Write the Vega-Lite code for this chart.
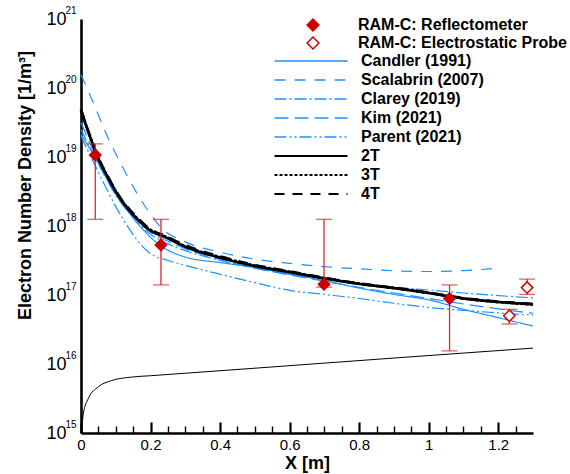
{
  "$schema": "https://vega.github.io/schema/vega-lite/v6.json",
  "width": 452,
  "height": 414,
  "autosize": {"type": "none"},
  "padding": {"left": 81, "top": 19, "right": 37, "bottom": 41},
  "background": "white",
  "config": {"view": {"stroke": null}, "font": "Liberation Sans", "axis": {"grid": false}},
  "resolve": {"axis": {"x": "independent", "y": "independent"}},
  "datasets": {
    "curves": [
      {"model": "Candler (1991)", "x": 0, "n": 2.14e19},
      {"model": "Candler (1991)", "x": 0.05, "n": 8.13e18},
      {"model": "Candler (1991)", "x": 0.09, "n": 3.47e18},
      {"model": "Candler (1991)", "x": 0.14, "n": 1.51e18},
      {"model": "Candler (1991)", "x": 0.18, "n": 8.71e17},
      {"model": "Candler (1991)", "x": 0.22, "n": 5.62e17},
      {"model": "Candler (1991)", "x": 0.25, "n": 4.47e17},
      {"model": "Candler (1991)", "x": 0.3, "n": 3.55e17},
      {"model": "Candler (1991)", "x": 0.4, "n": 2.95e17},
      {"model": "Candler (1991)", "x": 0.5, "n": 2.51e17},
      {"model": "Candler (1991)", "x": 0.6, "n": 2.0e17},
      {"model": "Candler (1991)", "x": 0.7, "n": 1.62e17},
      {"model": "Candler (1991)", "x": 0.8, "n": 1.26e17},
      {"model": "Candler (1991)", "x": 0.9, "n": 1.02e17},
      {"model": "Candler (1991)", "x": 1.0, "n": 8.5e16},
      {"model": "Candler (1991)", "x": 1.1, "n": 6.2e16},
      {"model": "Candler (1991)", "x": 1.2, "n": 4.7e16},
      {"model": "Candler (1991)", "x": 1.3, "n": 3.55e16},
      {"model": "Scalabrin (2007)", "x": 0, "n": 1.55e20},
      {"model": "Scalabrin (2007)", "x": 0.03, "n": 7.08e19},
      {"model": "Scalabrin (2007)", "x": 0.05, "n": 4.07e19},
      {"model": "Scalabrin (2007)", "x": 0.08, "n": 1.78e19},
      {"model": "Scalabrin (2007)", "x": 0.11, "n": 8.91e18},
      {"model": "Scalabrin (2007)", "x": 0.14, "n": 4.57e18},
      {"model": "Scalabrin (2007)", "x": 0.17, "n": 2.51e18},
      {"model": "Scalabrin (2007)", "x": 0.2, "n": 1.48e18},
      {"model": "Scalabrin (2007)", "x": 0.23, "n": 9.55e17},
      {"model": "Scalabrin (2007)", "x": 0.3, "n": 5.89e17},
      {"model": "Scalabrin (2007)", "x": 0.4, "n": 4.17e17},
      {"model": "Scalabrin (2007)", "x": 0.5, "n": 3.31e17},
      {"model": "Scalabrin (2007)", "x": 0.6, "n": 2.88e17},
      {"model": "Scalabrin (2007)", "x": 0.7, "n": 2.57e17},
      {"model": "Scalabrin (2007)", "x": 0.8, "n": 2.4e17},
      {"model": "Scalabrin (2007)", "x": 0.9, "n": 2.24e17},
      {"model": "Scalabrin (2007)", "x": 1.0, "n": 2.19e17},
      {"model": "Scalabrin (2007)", "x": 1.1, "n": 2.26e17},
      {"model": "Scalabrin (2007)", "x": 1.2, "n": 2.45e17},
      {"model": "Clarey (2019)", "x": 0, "n": 2.5e19},
      {"model": "Clarey (2019)", "x": 0.05, "n": 7.9e18},
      {"model": "Clarey (2019)", "x": 0.1, "n": 2.8e18},
      {"model": "Clarey (2019)", "x": 0.15, "n": 1.32e18},
      {"model": "Clarey (2019)", "x": 0.2, "n": 7.6e17},
      {"model": "Clarey (2019)", "x": 0.25, "n": 5.5e17},
      {"model": "Clarey (2019)", "x": 0.3, "n": 4.4e17},
      {"model": "Clarey (2019)", "x": 0.4, "n": 3.16e17},
      {"model": "Clarey (2019)", "x": 0.5, "n": 2.45e17},
      {"model": "Clarey (2019)", "x": 0.6, "n": 2.0e17},
      {"model": "Clarey (2019)", "x": 0.7, "n": 1.68e17},
      {"model": "Clarey (2019)", "x": 0.8, "n": 1.45e17},
      {"model": "Clarey (2019)", "x": 0.9, "n": 1.3e17},
      {"model": "Clarey (2019)", "x": 1.0, "n": 1.18e17},
      {"model": "Clarey (2019)", "x": 1.1, "n": 1.07e17},
      {"model": "Clarey (2019)", "x": 1.2, "n": 9.8e16},
      {"model": "Clarey (2019)", "x": 1.3, "n": 9.1e16},
      {"model": "Kim (2021)", "x": 0, "n": 3.16e19},
      {"model": "Kim (2021)", "x": 0.05, "n": 8.5e18},
      {"model": "Kim (2021)", "x": 0.1, "n": 3.0e18},
      {"model": "Kim (2021)", "x": 0.15, "n": 1.41e18},
      {"model": "Kim (2021)", "x": 0.2, "n": 8.1e17},
      {"model": "Kim (2021)", "x": 0.25, "n": 6.0e17},
      {"model": "Kim (2021)", "x": 0.3, "n": 4.7e17},
      {"model": "Kim (2021)", "x": 0.4, "n": 3.24e17},
      {"model": "Kim (2021)", "x": 0.5, "n": 2.45e17},
      {"model": "Kim (2021)", "x": 0.6, "n": 1.95e17},
      {"model": "Kim (2021)", "x": 0.7, "n": 1.58e17},
      {"model": "Kim (2021)", "x": 0.8, "n": 1.29e17},
      {"model": "Kim (2021)", "x": 0.9, "n": 1.07e17},
      {"model": "Kim (2021)", "x": 1.0, "n": 8.9e16},
      {"model": "Kim (2021)", "x": 1.1, "n": 7.4e16},
      {"model": "Kim (2021)", "x": 1.2, "n": 6.3e16},
      {"model": "Kim (2021)", "x": 1.3, "n": 5.4e16},
      {"model": "Parent (2021)", "x": 0, "n": 2.0e19},
      {"model": "Parent (2021)", "x": 0.05, "n": 6.03e18},
      {"model": "Parent (2021)", "x": 0.1, "n": 1.91e18},
      {"model": "Parent (2021)", "x": 0.14, "n": 8.91e17},
      {"model": "Parent (2021)", "x": 0.17, "n": 5.5e17},
      {"model": "Parent (2021)", "x": 0.2, "n": 3.98e17},
      {"model": "Parent (2021)", "x": 0.25, "n": 3.16e17},
      {"model": "Parent (2021)", "x": 0.3, "n": 2.69e17},
      {"model": "Parent (2021)", "x": 0.4, "n": 2.0e17},
      {"model": "Parent (2021)", "x": 0.5, "n": 1.51e17},
      {"model": "Parent (2021)", "x": 0.6, "n": 1.17e17},
      {"model": "Parent (2021)", "x": 0.7, "n": 1.02e17},
      {"model": "Parent (2021)", "x": 0.8, "n": 8.9e16},
      {"model": "Parent (2021)", "x": 0.9, "n": 7.6e16},
      {"model": "Parent (2021)", "x": 1.0, "n": 6.6e16},
      {"model": "Parent (2021)", "x": 1.1, "n": 6.0e16},
      {"model": "Parent (2021)", "x": 1.2, "n": 5.5e16},
      {"model": "Parent (2021)", "x": 1.3, "n": 5.1e16},
      {"model": "2T", "x": 0, "n": 4.79e19},
      {"model": "2T", "x": 0.02, "n": 2.4e19},
      {"model": "2T", "x": 0.05, "n": 9.55e18},
      {"model": "2T", "x": 0.08, "n": 4.79e18},
      {"model": "2T", "x": 0.11, "n": 2.63e18},
      {"model": "2T", "x": 0.14, "n": 1.66e18},
      {"model": "2T", "x": 0.17, "n": 1.15e18},
      {"model": "2T", "x": 0.19, "n": 9.3e17},
      {"model": "2T", "x": 0.25, "n": 6.61e17},
      {"model": "2T", "x": 0.3, "n": 5.01e17},
      {"model": "2T", "x": 0.4, "n": 3.47e17},
      {"model": "2T", "x": 0.5, "n": 2.63e17},
      {"model": "2T", "x": 0.6, "n": 2.14e17},
      {"model": "2T", "x": 0.7, "n": 1.74e17},
      {"model": "2T", "x": 0.8, "n": 1.45e17},
      {"model": "2T", "x": 0.9, "n": 1.26e17},
      {"model": "2T", "x": 1.0, "n": 1.07e17},
      {"model": "2T", "x": 1.1, "n": 8.91e16},
      {"model": "2T", "x": 1.2, "n": 7.94e16},
      {"model": "2T", "x": 1.3, "n": 7.33e16},
      {"model": "3T", "x": 0, "n": 4.8e19},
      {"model": "3T", "x": 0.02, "n": 2.4e19},
      {"model": "3T", "x": 0.05, "n": 9.6e18},
      {"model": "3T", "x": 0.08, "n": 4.8e18},
      {"model": "3T", "x": 0.11, "n": 2.65e18},
      {"model": "3T", "x": 0.14, "n": 1.68e18},
      {"model": "3T", "x": 0.17, "n": 1.17e18},
      {"model": "3T", "x": 0.19, "n": 9.5e17},
      {"model": "3T", "x": 0.25, "n": 6.75e17},
      {"model": "3T", "x": 0.3, "n": 5.1e17},
      {"model": "3T", "x": 0.4, "n": 3.55e17},
      {"model": "3T", "x": 0.5, "n": 2.68e17},
      {"model": "3T", "x": 0.6, "n": 2.17e17},
      {"model": "3T", "x": 0.7, "n": 1.76e17},
      {"model": "3T", "x": 0.8, "n": 1.46e17},
      {"model": "3T", "x": 0.9, "n": 1.26e17},
      {"model": "3T", "x": 1.0, "n": 1.07e17},
      {"model": "3T", "x": 1.1, "n": 8.9e16},
      {"model": "3T", "x": 1.2, "n": 7.9e16},
      {"model": "3T", "x": 1.3, "n": 7.3e16},
      {"model": "4T", "x": 0, "n": 4.8e19},
      {"model": "4T", "x": 0.02, "n": 2.42e19},
      {"model": "4T", "x": 0.05, "n": 9.7e18},
      {"model": "4T", "x": 0.08, "n": 4.9e18},
      {"model": "4T", "x": 0.11, "n": 2.7e18},
      {"model": "4T", "x": 0.14, "n": 1.72e18},
      {"model": "4T", "x": 0.17, "n": 1.2e18},
      {"model": "4T", "x": 0.19, "n": 9.7e17},
      {"model": "4T", "x": 0.25, "n": 6.9e17},
      {"model": "4T", "x": 0.3, "n": 5.25e17},
      {"model": "4T", "x": 0.4, "n": 3.62e17},
      {"model": "4T", "x": 0.5, "n": 2.72e17},
      {"model": "4T", "x": 0.6, "n": 2.2e17},
      {"model": "4T", "x": 0.7, "n": 1.77e17},
      {"model": "4T", "x": 0.8, "n": 1.47e17},
      {"model": "4T", "x": 0.9, "n": 1.27e17},
      {"model": "4T", "x": 1.0, "n": 1.08e17},
      {"model": "4T", "x": 1.1, "n": 9.0e16},
      {"model": "4T", "x": 1.2, "n": 8.0e16},
      {"model": "4T", "x": 1.3, "n": 7.4e16}
    ],
    "lower": [
      {"x": 0, "n": 1.0e15},
      {"x": 0.003, "n": 1.3e15},
      {"x": 0.007, "n": 1.95e15},
      {"x": 0.021, "n": 3.16e15},
      {"x": 0.05, "n": 4.68e15},
      {"x": 0.088, "n": 5.75e15},
      {"x": 0.145, "n": 6.46e15},
      {"x": 0.2, "n": 6.76e15},
      {"x": 0.3, "n": 7.35e15},
      {"x": 0.5, "n": 8.69e15},
      {"x": 0.7, "n": 1.03e16},
      {"x": 0.9, "n": 1.22e16},
      {"x": 1.1, "n": 1.44e16},
      {"x": 1.3, "n": 1.7e16}
    ],
    "exp": [
      {"source": "RAM-C: Reflectometer", "x": 0.041, "n": 1.07e19, "lo": 1.25e18, "hi": 1.55e19},
      {"source": "RAM-C: Reflectometer", "x": 0.23, "n": 5.3e17, "lo": 1.4e17, "hi": 1.25e18},
      {"source": "RAM-C: Reflectometer", "x": 0.699, "n": 1.43e17, "lo": 1.3e17, "hi": 1.25e18},
      {"source": "RAM-C: Reflectometer", "x": 1.06, "n": 8.9e16, "lo": 1.55e16, "hi": 1.4e17},
      {"source": "RAM-C: Electrostatic Probe", "x": 1.232, "n": 5.0e16, "lo": 3.8e16, "hi": 6.2e16},
      {"source": "RAM-C: Electrostatic Probe", "x": 1.283, "n": 1.28e17, "lo": 1.02e17, "hi": 1.7e17}
    ]
  },
  "layer": [
    {
      "data": {"name": "curves"},
      "transform": [{"filter": "indexof(['2T','3T','4T'], datum.model) < 0"}],
      "mark": {"type": "line", "strokeWidth": 1.2, "interpolate": "monotone"},
      "encoding": {
        "x": {"field": "x", "type": "quantitative", "scale": {"domain": [0, 1.3], "nice": false, "zero": false},
          "axis": {"orient": "bottom", "offset": -11, "values": [0, 0.2, 0.4, 0.6, 0.8, 1.0, 1.2], "ticks": true, "tickSize": 11, "tickWidth": 2.2, "tickColor": "black", "labels": false, "domain": false, "title": null}},
        "y": {"field": "n", "type": "quantitative", "scale": {"type": "log", "domain": [1e15, 1e21], "nice": false}, "axis": null},
        "color": {"field": "model", "type": "nominal",
          "scale": {"domain": ["Candler (1991)", "Scalabrin (2007)", "Clarey (2019)", "Kim (2021)", "Parent (2021)", "2T", "3T", "4T"],
            "range": ["#1e90ff", "#1e90ff", "#1e90ff", "#1e90ff", "#1e90ff", "#000000", "#000000", "#000000"]},
          "legend": {"title": null, "orient": "none", "legendX": 222, "legendY": 34, "padding": 0, "symbolType": "stroke", "symbolSize": 5329, "labelFont": "Liberation Sans", "labelFontWeight": "bold", "labelFontSize": 16, "labelColor": "black", "labelOffset": 42, "labelLimit": 400, "rowPadding": 3,
            "encode": {"symbols": {"update": {"strokeWidth": {"signal": "datum.value == '2T' ? 2.2 : (datum.value == '3T' || datum.value == '4T') ? 2 : 1.3"}}}}}},
        "strokeDash": {"field": "model", "type": "nominal",
          "scale": {"domain": ["Candler (1991)", "Scalabrin (2007)", "Clarey (2019)", "Kim (2021)", "Parent (2021)", "2T", "3T", "4T"],
            "range": [[1, 0], [11, 9], [12, 3, 2, 3], [14, 6], [12, 3, 2, 3, 2, 3], [1, 0], [3, 2], [10, 8]]},
          "legend": {"title": null, "orient": "none", "legendX": 222, "legendY": 34, "padding": 0, "symbolType": "stroke", "symbolSize": 5329, "labelFont": "Liberation Sans", "labelFontWeight": "bold", "labelFontSize": 16, "labelColor": "black", "labelOffset": 42, "labelLimit": 400, "rowPadding": 3,
            "encode": {"symbols": {"update": {"strokeWidth": {"signal": "datum.value == '2T' ? 2.2 : (datum.value == '3T' || datum.value == '4T') ? 2 : 1.3"}}}}}}
      }
    },
    {
      "data": {"name": "curves"},
      "transform": [{"filter": "indexof(['2T','3T','4T'], datum.model) >= 0"}],
      "mark": {"type": "line", "strokeWidth": 2.7, "interpolate": "monotone"},
      "encoding": {
        "x": {"field": "x", "type": "quantitative", "scale": {"domain": [0, 1.3], "nice": false, "zero": false}, "axis": null},
        "y": {"field": "n", "type": "quantitative", "scale": {"type": "log", "domain": [1e15, 1e21], "nice": false}, "axis": null},
        "color": {"field": "model", "type": "nominal",
          "scale": {"domain": ["Candler (1991)", "Scalabrin (2007)", "Clarey (2019)", "Kim (2021)", "Parent (2021)", "2T", "3T", "4T"],
            "range": ["#1e90ff", "#1e90ff", "#1e90ff", "#1e90ff", "#1e90ff", "#000000", "#000000", "#000000"]},
          "legend": {"title": null, "orient": "none", "legendX": 222, "legendY": 34, "padding": 0, "symbolType": "stroke", "symbolSize": 5329, "labelFont": "Liberation Sans", "labelFontWeight": "bold", "labelFontSize": 16, "labelColor": "black", "labelOffset": 42, "labelLimit": 400, "rowPadding": 3,
            "encode": {"symbols": {"update": {"strokeWidth": {"signal": "datum.value == '2T' ? 2.2 : (datum.value == '3T' || datum.value == '4T') ? 2 : 1.3"}}}}}},
        "strokeDash": {"field": "model", "type": "nominal",
          "scale": {"domain": ["Candler (1991)", "Scalabrin (2007)", "Clarey (2019)", "Kim (2021)", "Parent (2021)", "2T", "3T", "4T"],
            "range": [[1, 0], [11, 9], [12, 3, 2, 3], [14, 6], [12, 3, 2, 3, 2, 3], [1, 0], [3, 2], [10, 8]]},
          "legend": {"title": null, "orient": "none", "legendX": 222, "legendY": 34, "padding": 0, "symbolType": "stroke", "symbolSize": 5329, "labelFont": "Liberation Sans", "labelFontWeight": "bold", "labelFontSize": 16, "labelColor": "black", "labelOffset": 42, "labelLimit": 400, "rowPadding": 3,
            "encode": {"symbols": {"update": {"strokeWidth": {"signal": "datum.value == '2T' ? 2.2 : (datum.value == '3T' || datum.value == '4T') ? 2 : 1.3"}}}}}}
      }
    },
    {
      "data": {"name": "lower"},
      "mark": {"type": "line", "strokeWidth": 1, "color": "black", "interpolate": "monotone"},
      "encoding": {
        "x": {"field": "x", "type": "quantitative", "scale": {"domain": [0, 1.3], "nice": false, "zero": false}, "axis": null},
        "y": {"field": "n", "type": "quantitative", "scale": {"type": "log", "domain": [1e15, 1e21], "nice": false}, "axis": null}
      }
    },
    {
      "data": {"name": "exp"},
      "mark": {"type": "rule", "color": "#d42a2a", "strokeWidth": 1.3},
      "encoding": {
        "x": {"field": "x", "type": "quantitative", "scale": {"domain": [0, 1.3], "nice": false, "zero": false}, "axis": null},
        "y": {"field": "lo", "type": "quantitative", "scale": {"type": "log", "domain": [1e15, 1e21], "nice": false},
          "axis": {"orient": "left", "values": [1e15, 1e16, 1e17, 1e18, 1e19, 1e20, 1e21], "ticks": false, "domain": false, "title": null,
            "labelFont": "Liberation Sans", "labelFontSize": 10, "labelColor": "black", "labelPadding": 5, "labelOffset": -9,
            "labelExpr": "datum.value == 1e15 ? '15' : datum.value == 1e16 ? '16' : datum.value == 1e17 ? '17' : datum.value == 1e18 ? '18' : datum.value == 1e19 ? '19' : datum.value == 1e20 ? '20' : '21'"}},
        "y2": {"field": "hi"}
      }
    },
    {
      "data": {"name": "exp"},
      "mark": {"type": "tick", "orient": "horizontal", "size": 16, "thickness": 1.3, "color": "#d42a2a"},
      "encoding": {
        "x": {"field": "x", "type": "quantitative", "scale": {"domain": [0, 1.3], "nice": false, "zero": false}, "axis": null},
        "y": {"field": "hi", "type": "quantitative", "scale": {"type": "log", "domain": [1e15, 1e21], "nice": false}, "axis": null}
      }
    },
    {
      "data": {"name": "exp"},
      "mark": {"type": "tick", "orient": "horizontal", "size": 16, "thickness": 1.3, "color": "#d42a2a"},
      "encoding": {
        "x": {"field": "x", "type": "quantitative", "scale": {"domain": [0, 1.3], "nice": false, "zero": false},
          "axis": {"orient": "bottom", "values": [0.05, 0.1, 0.15, 0.25, 0.3, 0.35, 0.45, 0.5, 0.55, 0.65, 0.7, 0.75, 0.85, 0.9, 0.95, 1.05, 1.1, 1.15, 1.25], "ticks": false, "labels": false, "domain": false, "title": null, "grid": true, "gridColor": "black", "gridWidth": 1.4, "gridOpacity": 1, "gridDash": [0, 407, 7, 100]}},
        "y": {"field": "lo", "type": "quantitative", "scale": {"type": "log", "domain": [1e15, 1e21], "nice": false}, "axis": null}
      }
    },
    {
      "data": {"name": "exp"},
      "mark": {"type": "point", "shape": "diamond", "size": 130, "stroke": "#cc0000", "strokeWidth": 1.5, "filled": true, "opacity": 1},
      "encoding": {
        "x": {"field": "x", "type": "quantitative", "scale": {"domain": [0, 1.3], "nice": false, "zero": false},
          "axis": {"orient": "bottom", "values": [0, 0.2, 0.4, 0.6, 0.8, 1.0, 1.2], "ticks": false, "domain": true, "domainColor": "black", "domainWidth": 2.6, "labelFont": "Liberation Sans", "labelFontSize": 15, "labelColor": "black", "labelPadding": 4, "labelFlush": false, "format": "~g",
            "title": "X [m]", "titleFont": "Liberation Sans", "titleFontSize": 18, "titleFontWeight": "bold", "titleColor": "black", "titlePadding": 2}},
        "y": {"field": "n", "type": "quantitative", "scale": {"type": "log", "domain": [1e15, 1e21], "nice": false},
          "axis": {"orient": "left", "values": [1e15, 1e16, 1e17, 1e18, 1e19, 1e20, 1e21], "ticks": false, "domain": true, "domainColor": "black", "domainWidth": 2.6, "labelFont": "Liberation Sans", "labelFontSize": 18, "labelColor": "black", "labelPadding": 15, "labelFlush": false, "labelExpr": "'10'",
            "title": "Electron Number Density [1/m³]", "titleFont": "Liberation Sans", "titleFontSize": 18, "titleFontWeight": "bold", "titleColor": "black", "titleX": -56, "titleY": 166, "titleAngle": -90, "titleAlign": "center", "titleBaseline": "middle"}},
        "fill": {"field": "source", "type": "nominal",
          "scale": {"domain": ["RAM-C: Reflectometer", "RAM-C: Electrostatic Probe"], "range": ["#cc0000", "#ffffff"]},
          "legend": {"title": null, "orient": "none", "legendX": 224, "legendY": -2, "padding": 0, "symbolType": "diamond", "symbolSize": 140, "symbolStrokeColor": "#cc0000", "symbolStrokeWidth": 1.5, "labelFont": "Liberation Sans", "labelFontWeight": "bold", "labelFontSize": 16, "labelColor": "black", "labelOffset": 37, "labelLimit": 400, "rowPadding": 0}}
      }
    }
  ]
}
